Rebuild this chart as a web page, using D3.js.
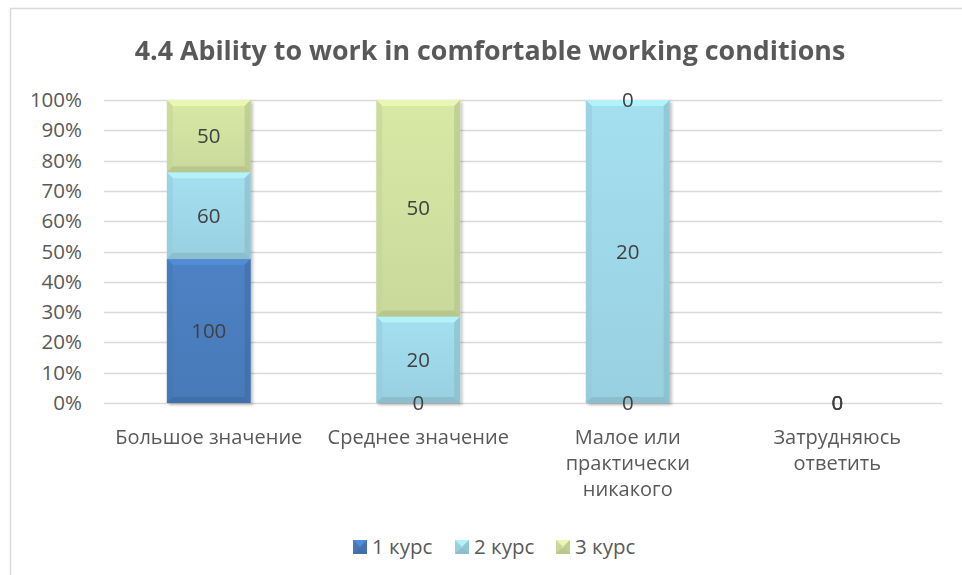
<!DOCTYPE html>
<html>
<head>
<meta charset="utf-8">
<script src="https://cdn.jsdelivr.net/npm/d3@7"></script>
<style>
  body { margin: 0; background: #fff; }
  text { font-family: "Open Sans", "Noto Sans", sans-serif; }
</style>
</head>
<body>
<svg width="962" height="575"></svg>
<script>
var categories = ['Большое значение', 'Среднее значение', 'Малое или практически никакого', 'Затрудняюсь ответить'];
var categoryLines = [['Большое значение'], ['Среднее значение'], ['Малое или', 'практически', 'никакого'], ['Затрудняюсь', 'ответить']];
var seriesNames = ['1 курс', '2 курс', '3 курс'];
var course1 = [100, 0, 0, 0];
var course2 = [60, 20, 20, 0];
var course3 = [50, 50, 0, 0];
var tickValues = [0, 0.1, 0.2, 0.3, 0.4, 0.5, 0.6, 0.7, 0.8, 0.9, 1];

var colors = ['#4a7dbd', '#9dd6e6', '#cfdf9f'];
var series = [course1, course2, course3];

var svg = d3.select('svg'),
  w = +svg.attr('width'),
  h = +svg.attr('height');

// chart frame
svg.append('rect')
  .attr('x', 10.5).attr('y', 8.5)
  .attr('width', w).attr('height', h)
  .attr('fill', 'none').attr('stroke', '#d9d9d9').attr('stroke-width', 1.5);

var plotL = 104, plotR = 942, plotT = 100, plotB = 403;

var x = d3.scaleBand().domain(categories).range([plotL, plotR]).paddingInner(0.6).paddingOuter(0.3);
var y = d3.scaleLinear().domain([0, 1]).range([plotB, plotT]);

// gridlines
svg.append('g').selectAll('line')
  .data(tickValues)
  .enter().append('line')
  .attr('x1', plotL).attr('x2', plotR)
  .attr('y1', function(d) { return Math.round(y(d)) + 0.5; })
  .attr('y2', function(d) { return Math.round(y(d)) + 0.5; })
  .attr('stroke', '#d9d9d9').attr('stroke-width', 1.3);

// y axis labels
var yAxis = svg.append('g')
  .attr('transform', 'translate(' + (plotL - 22) + ',0)')
  .call(d3.axisLeft(y).tickValues(tickValues).tickFormat(d3.format('.0%')).tickSize(0).tickPadding(0));
yAxis.select('.domain').remove();
yAxis.selectAll('text').attr('font-size', 20.5).attr('fill', '#595959')
  .attr('font-family', '"Open Sans", "Noto Sans", sans-serif');

// stack the data into 100% columns
var rows = categories.map(function(c, i) {
  var r = { cat: c };
  seriesNames.forEach(function(s, j) { r[s] = series[j][i]; });
  return r;
});
var stacked = d3.stack().keys(seriesNames).offset(d3.stackOffsetExpand)(rows);

var defs = svg.append('defs');
defs.append('filter').attr('id', 'shadow')
  .attr('x', '-10%').attr('y', '-10%').attr('width', '130%').attr('height', '130%')
  .append('feDropShadow')
  .attr('dx', 2).attr('dy', 2).attr('stdDeviation', 1.5)
  .attr('flood-color', '#000').attr('flood-opacity', 0.25);

colors.forEach(function(c, i) {
  var g = defs.append('linearGradient').attr('id', 'grad' + i)
    .attr('x1', 0).attr('y1', 0).attr('x2', 0).attr('y2', 1);
  g.append('stop').attr('offset', 0).attr('stop-color', d3.color(c).brighter(0.12));
  g.append('stop').attr('offset', 1).attr('stop-color', d3.color(c).darker(0.08));
});

function bevel(g, x0, y0, bw, bh, color, i) {
  var b = Math.min(6, bh / 2, bw / 2);
  var x1 = x0 + bw, y1 = y0 + bh;
  g.append('rect').attr('x', x0).attr('y', y0).attr('width', bw).attr('height', bh)
    .attr('fill', 'url(#grad' + i + ')');
  var faces = [
    { p: [[x0, y0], [x1, y0], [x1 - b, y0 + b], [x0 + b, y0 + b]], c: d3.color(color).brighter(0.5) },
    { p: [[x0, y0], [x0 + b, y0 + b], [x0 + b, y1 - b], [x0, y1]], c: d3.color(color).darker(0.15) },
    { p: [[x1, y0], [x1, y1], [x1 - b, y1 - b], [x1 - b, y0 + b]], c: d3.color(color).darker(0.4) },
    { p: [[x0, y1], [x0 + b, y1 - b], [x1 - b, y1 - b], [x1, y1]], c: d3.color(color).darker(0.5) }
  ];
  faces.forEach(function(f) {
    g.append('polygon').attr('points', f.p.map(function(q) { return q.join(','); }).join(' '))
      .attr('fill', f.c).attr('opacity', 0.6);
  });
}

var bars = svg.append('g').attr('filter', 'url(#shadow)');
stacked.forEach(function(layer, i) {
  layer.forEach(function(d) {
    var y0 = y(d[1]), y1 = y(d[0]);
    if (y1 - y0 > 0.5) {
      bevel(bars, x(d.data.cat), y0, x.bandwidth(), y1 - y0, colors[i], i);
    }
  });
});

// data labels
var labels = svg.append('g');
stacked.forEach(function(layer, i) {
  layer.forEach(function(d, k) {
    labels.append('text')
      .attr('x', x(d.data.cat) + x.bandwidth() / 2)
      .attr('y', (y(d[0]) + y(d[1])) / 2)
      .attr('dy', '0.35em')
      .attr('text-anchor', 'middle')
      .attr('font-size', 20.5)
      .attr('fill', '#404040')
      .text(series[i][k]);
  });
});

// category labels
var cats = svg.append('g');
categories.forEach(function(c, i) {
  var t = cats.append('text')
    .attr('x', x(c) + x.bandwidth() / 2)
    .attr('y', 444)
    .attr('text-anchor', 'middle')
    .attr('font-size', 20)
    .attr('fill', '#595959');
  categoryLines[i].forEach(function(line, j) {
    t.append('tspan').attr('x', x(c) + x.bandwidth() / 2).attr('dy', j ? 26 : 0).text(line);
  });
});

// title
svg.append('text')
  .attr('x', 490).attr('y', 60)
  .attr('text-anchor', 'middle')
  .attr('font-size', 26.8).attr('font-weight', 'bold')
  .attr('fill', '#595959')
  .text('4.4 Ability to work in comfortable working conditions');

// legend
var legendX = [353, 455, 556];
var legend = svg.append('g');
seriesNames.forEach(function(s, i) {
  var lg = legend.append('g').attr('transform', 'translate(' + legendX[i] + ',540)');
  bevel(lg, 0, 0, 14, 14, colors[i], i);
  lg.append('text').attr('x', 19).attr('y', 7).attr('dy', '0.35em')
    .attr('font-size', 20.5).attr('fill', '#595959').text(s);
});
</script>
</body>
</html>
